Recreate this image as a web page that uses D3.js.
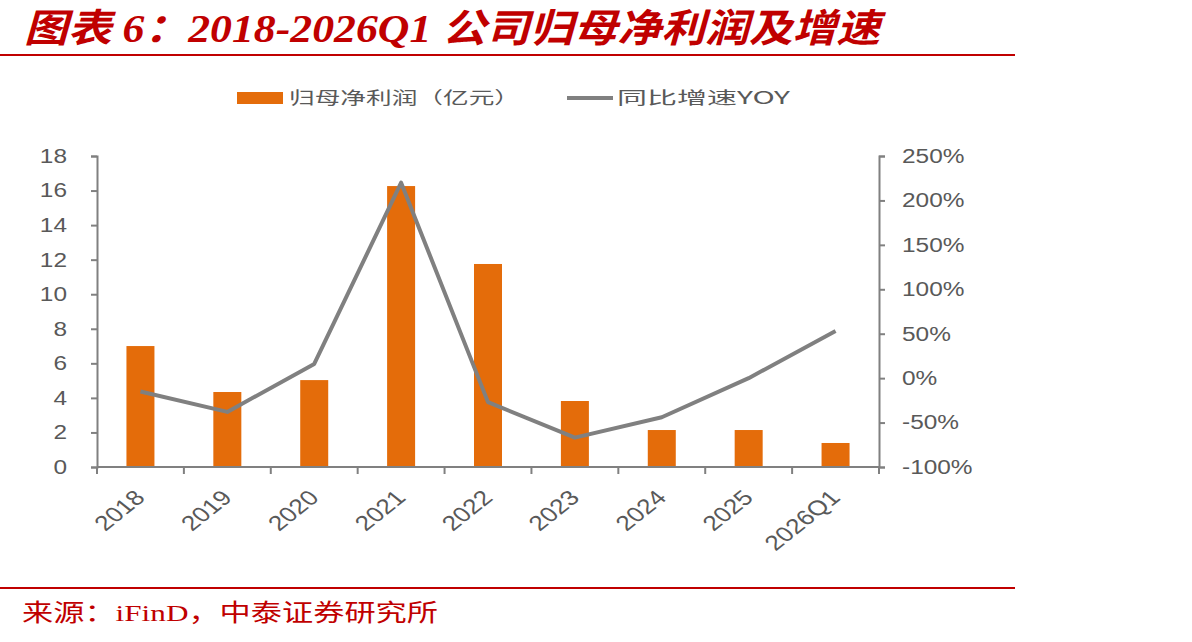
<!DOCTYPE html>
<html>
<head>
<meta charset="utf-8">
<script src="https://cdn.jsdelivr.net/npm/d3@7"></script>
<style>
  body { margin: 0; background: #fff; }
  svg { display: block; }
  .tick text { font-family: Arial, "Liberation Sans", sans-serif; font-size: 20px; fill: #595959; }
</style>
</head>
<body>
<svg width="1192" height="642"></svg>
<script>
"use strict";

// 数据
var categories = ["2018", "2019", "2020", "2021", "2022", "2023", "2024", "2025", "2026Q1"];
var profit = [7.0, 4.34, 5.03, 16.26, 11.75, 3.82, 2.14, 2.14, 1.39];
var yoy = [-0.15, -0.38, 0.16, 2.2, -0.27, -0.67, -0.44, 0.0, 0.53];
var leftTicks = [0, 2, 4, 6, 8, 10, 12, 14, 16, 18];
var rightTicks = [-1, -0.5, 0, 0.5, 1, 1.5, 2, 2.5];

var red = "#c00000", orange = "#e46c0a", grey = "#808080";

var svg = d3.select("svg");
var margin = { top: 156, left: 97, right: 313, bottom: 175 };
var width = 1192 - margin.left - margin.right,
    height = 642 - margin.top - margin.bottom;

// 原图横向拉伸过，文字也跟着拉宽
function stretch(sel, k) {
  sel.each(function () {
    var w = this.getComputedTextLength();
    d3.select(this).attr("textLength", w * k).attr("lengthAdjust", "spacingAndGlyphs");
  });
}

// 标题
svg.append("text")
  .attr("x", 24).attr("y", 42)
  .attr("font-family", "'Liberation Serif', 'Noto Sans CJK SC', serif")
  .attr("font-size", 39).attr("font-weight", "bold").attr("font-style", "italic")
  .attr("fill", red)
  .attr("textLength", 856).attr("lengthAdjust", "spacingAndGlyphs")
  .text("图表 6：2018-2026Q1 公司归母净利润及增速");
svg.append("line").attr("x1", 0).attr("x2", 1015).attr("y1", 55).attr("y2", 55)
  .attr("stroke", red).attr("stroke-width", 2);
svg.append("line").attr("x1", 0).attr("x2", 1015).attr("y1", 588).attr("y2", 588)
  .attr("stroke", red).attr("stroke-width", 2);
svg.append("text")
  .attr("x", 22).attr("y", 621)
  .attr("font-family", "'Liberation Serif', 'Noto Sans CJK SC', serif")
  .attr("font-size", 24).attr("fill", red)
  .attr("textLength", 416).attr("lengthAdjust", "spacingAndGlyphs")
  .text("来源：iFinD，中泰证券研究所");

// 图例
var lg = svg.append("g").attr("font-family", "'Noto Sans CJK SC', sans-serif").attr("font-size", 17).attr("fill", "#595959");
lg.append("rect").attr("x", 237).attr("y", 92).attr("width", 46).attr("height", 12).attr("fill", orange);
lg.append("text").attr("x", 289).attr("y", 104)
  .attr("textLength", 231).attr("lengthAdjust", "spacingAndGlyphs")
  .text("归母净利润（亿元）");
lg.append("line").attr("x1", 567).attr("x2", 613).attr("y1", 98).attr("y2", 98)
  .attr("stroke", grey).attr("stroke-width", 4);
lg.append("text").attr("x", 617).attr("y", 104)
  .attr("textLength", 173).attr("lengthAdjust", "spacingAndGlyphs")
  .text("同比增速YOY");

var g = svg.append("g").attr("transform", "translate(" + margin.left + "," + margin.top + ")");

var xc = d3.scaleBand().domain(categories).range([0, width]);
var yL = d3.scaleLinear().domain([0, 18]).range([height, 0]);
var yR = d3.scaleLinear().domain([-1, 2.5]).range([height, 0]);
var barW = 28;

// 柱子
g.selectAll("rect.bar").data(profit).enter().append("rect")
  .attr("class", "bar")
  .attr("x", function (d, i) { return xc(categories[i]) + xc.bandwidth() / 2 - barW / 2; })
  .attr("width", barW)
  .attr("y", function (d) { return yL(d); })
  .attr("height", function (d) { return height - yL(d); })
  .attr("fill", orange);

// 折线
var line = d3.line()
  .x(function (d, i) { return xc(categories[i]) + xc.bandwidth() / 2; })
  .y(function (d) { return yR(d); });
g.append("path").datum(yoy).attr("d", line)
  .attr("fill", "none").attr("stroke", grey).attr("stroke-width", 4).attr("stroke-linejoin", "round");

// 坐标轴
function styleAxis(sel) {
  sel.select(".domain").attr("stroke", grey).attr("stroke-width", 2);
  sel.selectAll(".tick line").attr("stroke", grey).attr("stroke-width", 2);
}

var axL = g.append("g")
  .call(d3.axisLeft(yL).tickValues(leftTicks).tickSize(6).tickSizeOuter(6).tickPadding(24));
styleAxis(axL);
stretch(axL.selectAll(".tick text"), 1.22);

var axR = g.append("g").attr("transform", "translate(" + width + ",0)")
  .call(d3.axisRight(yR).tickValues(rightTicks).tickSize(6).tickSizeOuter(6).tickPadding(17)
    .tickFormat(function (d) { return Math.round(d * 100) + "%"; }));
styleAxis(axR);
stretch(axR.selectAll(".tick text"), 1.22);

var xTicks = d3.range(categories.length + 1).map(function (i) { return i * xc.step(); });
var axB = g.append("g").attr("transform", "translate(0," + height + ")");
axB.append("line").attr("x1", 0).attr("x2", width).attr("stroke", grey).attr("stroke-width", 2);
axB.selectAll("line.tk").data(xTicks).enter().append("line")
  .attr("class", "tk")
  .attr("x1", function (d) { return d; }).attr("x2", function (d) { return d; })
  .attr("y1", 0).attr("y2", 7)
  .attr("stroke", grey).attr("stroke-width", 2);
axB.selectAll("g.xl").data(categories).enter().append("g")
  .attr("class", "xl")
  .attr("transform", function (d) {
    return "translate(" + (xc(d) + xc.bandwidth() / 2 + 6) + ",32) scale(1.25,1) rotate(-45)";
  })
  .append("text")
  .attr("text-anchor", "end")
  .attr("font-family", "Arial, 'Liberation Sans', sans-serif")
  .attr("font-size", 21).attr("fill", "#595959")
  .text(function (d) { return d; });
</script>
</body>
</html>
